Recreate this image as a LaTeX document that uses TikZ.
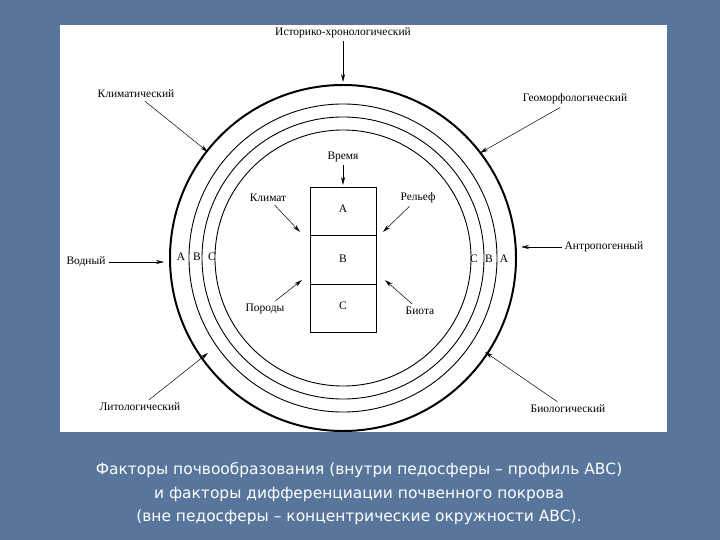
\documentclass[tikz,border=0pt]{standalone}
\usepackage{fontspec}
\setmainfont{Liberation Serif}
\newfontfamily\capfont{DejaVu Sans}
\usetikzlibrary{arrows.meta}
\definecolor{bg}{RGB}{88,118,156}
\begin{document}
\begin{tikzpicture}[x=1bp,y=-1bp,
  lbl/.style={inner sep=3pt,font=\fontsize{11.5}{13}\selectfont},
  arr/.style={-{Stealth[length=8pt,width=4pt]},line width=0.5pt},
  ring/.style={line width=0.9pt}]
\fill[bg] (0,0) rectangle (720,540);
\useasboundingbox (0,0) rectangle (720,540);
\fill[white] (60,25) rectangle (667,432);
\coordinate (c) at (343,258);
\draw[line width=2pt] (c) circle[radius=173bp];
\draw[ring] (c) circle[radius=154bp];
\draw[ring] (c) circle[radius=141bp];
\draw[ring] (c) circle[radius=128bp];
\draw[line width=0.9pt] (310,187) rectangle (376,332);
\draw[line width=0.9pt] (310,235) -- (376,235) (310,284) -- (376,284);
\node[lbl] (ha) at (343,209) {A};
\node[lbl] (hb) at (343,259) {B};
\node[lbl] (hc) at (343,306) {C};
\node[lbl] at (181,257) {A};
\node[lbl] at (197,257) {B};
\node[lbl] at (212,257) {C};
\node[lbl] at (474,259) {C};
\node[lbl] at (489,259) {B};
\node[lbl] at (504,259) {A};
% inner factors
\node[lbl] (vr) at (343,157) {Время};
\coordinate (vrE) at (343,185);
\draw[arr] (vr) -- (vrE);
\node[lbl] (kl) at (268,198) {Климат};
\coordinate (klE) at (300,232);
\draw[arr] (kl) -- (klE);
\node[lbl] (re) at (418,198) {Рельеф};
\coordinate (reE) at (383,232);
\draw[arr] (re) -- (reE);
\node[lbl] (po) at (265,309) {Породы};
\coordinate (poE) at (302,280);
\draw[arr] (po) -- (poE);
\node[lbl] (bi) at (420,311) {Биота};
\coordinate (biE) at (385,280);
\draw[arr] (bi) -- (biE);
% outer factors
\node[lbl] (ih) at (343,33) {Историко-хронологический};
\coordinate (ihE) at (343,82);
\draw[arr] (ih) -- (ihE);
\node[lbl] (km) at (136,94) {Климатический};
\coordinate (kmE) at (208,152);
\draw[arr] (km) -- (kmE);
\node[lbl] (gm) at (575,99) {Геоморфологический};
\coordinate (gmE) at (480,153);
\draw[arr] (gm) -- (gmE);
\node[lbl] (vo) at (86,262) {Водный};
\coordinate (voE) at (164,262);
\draw[arr] (vo) -- (voE);
\node[lbl] (an) at (604,247) {Антропогенный};
\coordinate (anE) at (521,247);
\draw[arr] (an) -- (anE);
\node[lbl] (li) at (140,407) {Литологический};
\coordinate (liE) at (208,353);
\draw[arr] (li) -- (liE);
\node[lbl] (bl) at (568,409) {Биологический};
\coordinate (blE) at (485,352);
\draw[arr] (bl) -- (blE);
% caption
\node[text=white,align=center,font=\capfont\fontsize{15.5}{23.5}\selectfont] (cap) at (359,494)
 {Факторы почвообразования (внутри педосферы – профиль АВС)\\
  и факторы дифференциации почвенного покрова\\
  (вне педосферы – концентрические окружности АВС).};
\end{tikzpicture}
\end{document}
